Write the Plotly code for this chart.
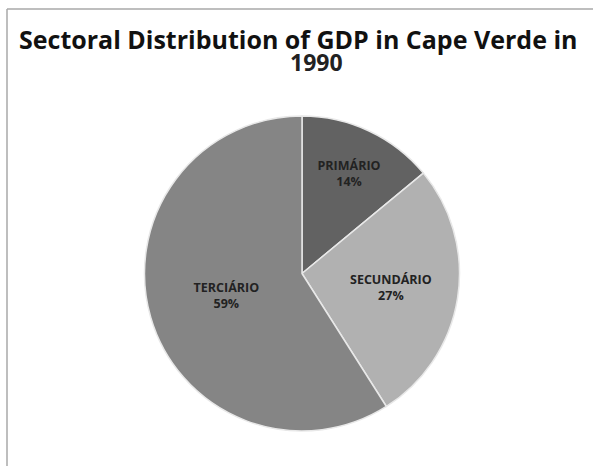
import plotly.graph_objects as go

sectors = ["PRIMÁRIO", "SECUNDÁRIO", "TERCIÁRIO"]
shares = [14, 27, 59]
colors = ["#626262", "#b1b1b1", "#858585"]
title_line1 = "Sectoral Distribution of GDP in Cape Verde in"
title_line2 = "1990"

W, H = 593, 466

fig = go.Figure(go.Pie(
    labels=sectors,
    values=shares,
    sort=False,
    direction="clockwise",
    rotation=0,
    marker=dict(colors=colors, line=dict(color="#e8e8e8", width=1.5)),
    textinfo="label+percent",
    textposition="inside",
    insidetextorientation="horizontal",
    texttemplate="<b>%{label}</b><br><b>%{percent:.0%}</b>",
    textfont=dict(family="Open Sans, Lato, sans-serif", size=12.5, color="#222222"),
    domain=dict(x=[140 / W, 464 / W], y=[1 - 431 / H, 1 - 116 / H]),
    showlegend=False,
    hoverinfo="label+percent",
))

fig.add_annotation(x=297.5 / W, y=1 - 39 / H, xref="paper", yref="paper",
                   text="<b>" + title_line1 + "</b>", showarrow=False,
                   font=dict(family="Open Sans, sans-serif", size=25, color="#111111"),
                   xanchor="center", yanchor="middle")
fig.add_annotation(x=317 / W, y=1 - 62 / H, xref="paper", yref="paper",
                   text="<b>" + title_line2 + "</b>", showarrow=False,
                   font=dict(family="Open Sans, sans-serif", size=23, color="#222222"),
                   xanchor="center", yanchor="middle")

# frame lines (top and left)
fig.add_shape(type="line", xref="paper", yref="paper",
              x0=7 / W, x1=1, y0=1 - 9 / H, y1=1 - 9 / H,
              line=dict(color="#a8a8a8", width=1.5))
fig.add_shape(type="line", xref="paper", yref="paper",
              x0=7 / W, x1=7 / W, y0=0, y1=1 - 9 / H,
              line=dict(color="#a8a8a8", width=1.5))

fig.update_layout(
    width=W, height=H,
    margin=dict(l=0, r=0, t=0, b=0),
    paper_bgcolor="white",
    plot_bgcolor="white",
)

fig.write_html("out.html",
               config={"displayModeBar": False},
               post_script="document.body.style.margin='0';document.body.style.overflow='hidden';")
